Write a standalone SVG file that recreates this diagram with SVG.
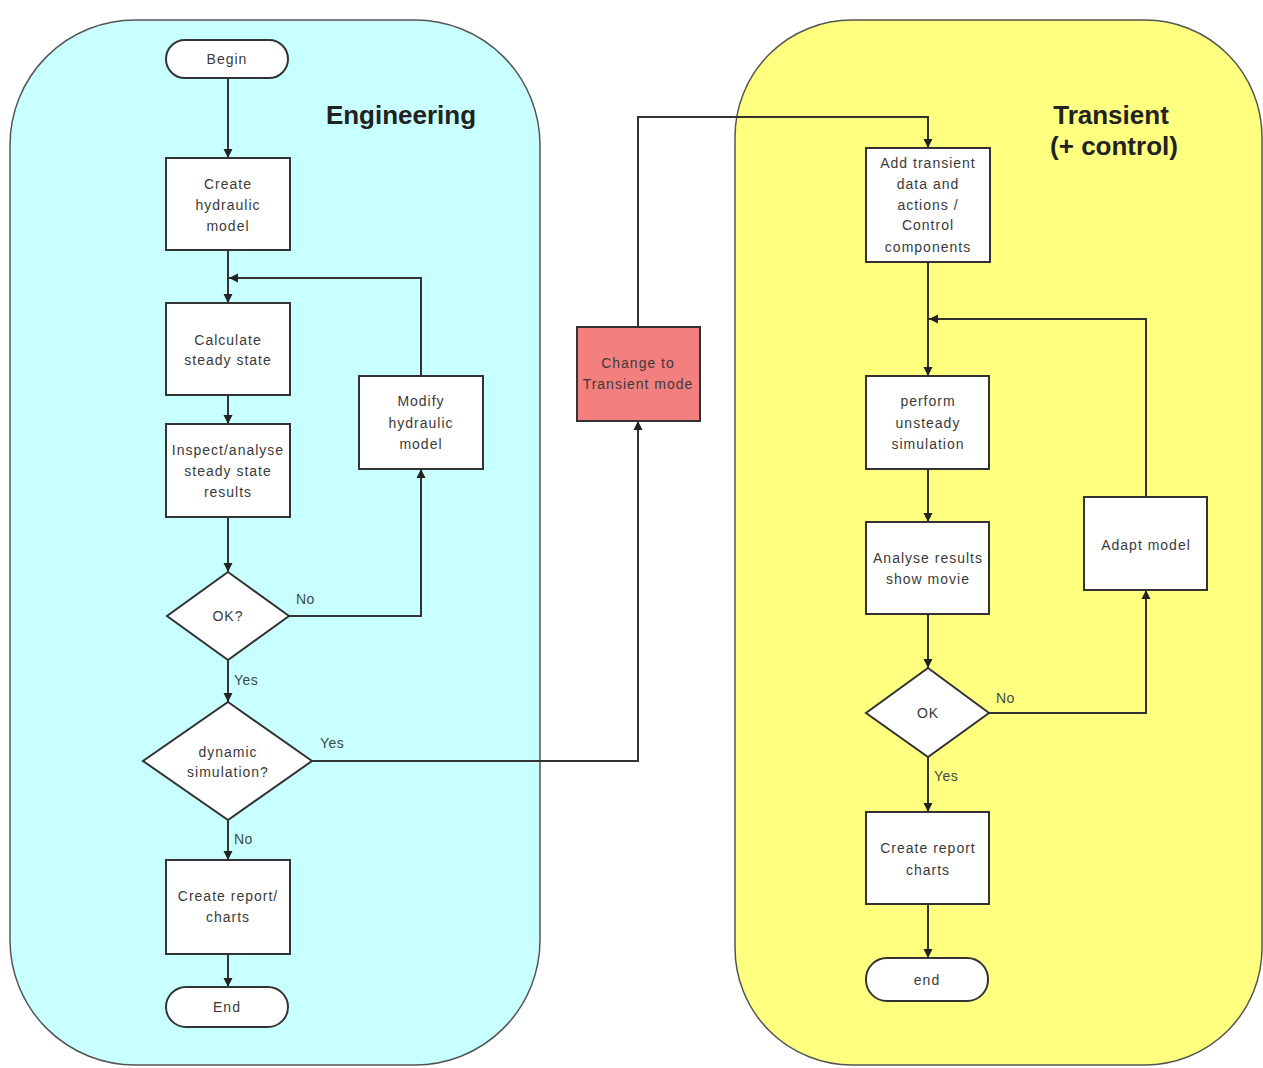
<svg xmlns="http://www.w3.org/2000/svg" width="1263" height="1068" viewBox="0 0 1263 1068">
<style>
.bg{fill:#ffffff}
.lane{stroke:#555;stroke-width:1.5}
.box{fill:#ffffff;stroke:#333;stroke-width:2}
.t{font-family:"Liberation Sans",Arial,sans-serif;font-size:14px;letter-spacing:1px;fill:#3a3a3a;text-anchor:middle}
.title{font-family:"Liberation Sans",Arial,sans-serif;font-size:26px;font-weight:bold;fill:#222;text-anchor:middle}
.lbl{font-family:"Liberation Sans",Arial,sans-serif;font-size:14px;letter-spacing:0.5px;fill:#3d4a4a}
.c{fill:none;stroke:#333;stroke-width:2}
</style>
<defs>
<marker id="ah" markerUnits="userSpaceOnUse" markerWidth="10" markerHeight="10" refX="9" refY="5" orient="auto">
<path d="M0,0.5 L9,5 L0,9.5 Z" fill="#222"/>
</marker>
</defs>
<rect class="bg" x="0" y="0" width="1263" height="1068"/>
<g id="lane-engineering">
<rect class="lane" x="10" y="20" width="530" height="1045" rx="125" ry="125" fill="#c8ffff"/>
<text class="title" x="401" y="124">Engineering</text>
</g>
<g id="lane-transient">
<rect class="lane" x="735" y="20" width="527" height="1045" rx="117" ry="117" fill="#ffff80"/>
<text class="title" x="1111" y="124">Transient</text>
<text class="title" x="1114" y="155">(+ control)</text>
</g>
<g id="connectors">
<path class="c" d="M228 78 V158" marker-end="url(#ah)"/>
<path class="c" d="M228 250 V303" marker-end="url(#ah)"/>
<path class="c" d="M421 376 V278 H229" marker-end="url(#ah)"/>
<path class="c" d="M228 395 V424" marker-end="url(#ah)"/>
<path class="c" d="M228 517 V572" marker-end="url(#ah)"/>
<path class="c" d="M289 616 H421 V469" marker-end="url(#ah)"/>
<path class="c" d="M228 660 V702" marker-end="url(#ah)"/>
<path class="c" d="M228 820 V860" marker-end="url(#ah)"/>
<path class="c" d="M228 954 V987" marker-end="url(#ah)"/>
<path class="c" d="M312 761 H638 V421" marker-end="url(#ah)"/>
<path class="c" d="M638 327 V117 H928 V148" marker-end="url(#ah)"/>
<path class="c" d="M928 262 V376" marker-end="url(#ah)"/>
<path class="c" d="M1146 497 V319 H929" marker-end="url(#ah)"/>
<path class="c" d="M928 469 V522" marker-end="url(#ah)"/>
<path class="c" d="M928 614 V668" marker-end="url(#ah)"/>
<path class="c" d="M989 713 H1146 V590" marker-end="url(#ah)"/>
<path class="c" d="M928 757 V812" marker-end="url(#ah)"/>
<path class="c" d="M928 904 V958" marker-end="url(#ah)"/>
<text class="lbl" x="296" y="604">No</text>
<text class="lbl" x="234" y="685">Yes</text>
<text class="lbl" x="320" y="748">Yes</text>
<text class="lbl" x="234" y="844">No</text>
<text class="lbl" x="996" y="703">No</text>
<text class="lbl" x="934" y="781">Yes</text>
</g>
<g id="begin">
<rect class="box" x="166" y="40" width="122" height="38" rx="19" ry="19"/>
<text class="t" x="227" y="64">Begin</text>
</g>
<g id="create-hydraulic">
<rect class="box" x="166" y="158" width="124" height="92"/>
<text class="t" x="228" y="189">Create</text>
<text class="t" x="228" y="210">hydraulic</text>
<text class="t" x="228" y="231">model</text>
</g>
<g id="calculate">
<rect class="box" x="166" y="303" width="124" height="92"/>
<text class="t" x="228" y="345">Calculate</text>
<text class="t" x="228" y="365">steady state</text>
</g>
<g id="inspect">
<rect class="box" x="166" y="424" width="124" height="93"/>
<text class="t" x="228" y="455">Inspect/analyse</text>
<text class="t" x="228" y="476">steady state</text>
<text class="t" x="228" y="497">results</text>
</g>
<g id="ok1">
<polygon class="box" points="228,572 289,616 228,660 167,616"/>
<text class="t" x="228" y="621">OK?</text>
</g>
<g id="modify">
<rect class="box" x="359" y="376" width="124" height="93"/>
<text class="t" x="421" y="406">Modify</text>
<text class="t" x="421" y="428">hydraulic</text>
<text class="t" x="421" y="449">model</text>
</g>
<g id="dynamic">
<polygon class="box" points="228,702 312,761 228,820 143,761"/>
<text class="t" x="228" y="757">dynamic</text>
<text class="t" x="228" y="777">simulation?</text>
</g>
<g id="report1">
<rect class="box" x="166" y="860" width="124" height="94"/>
<text class="t" x="228" y="901">Create report/</text>
<text class="t" x="228" y="922">charts</text>
</g>
<g id="end1">
<rect class="box" x="166" y="987" width="122" height="40" rx="20" ry="20"/>
<text class="t" x="227" y="1012">End</text>
</g>
<g id="change-mode">
<rect class="box" x="577" y="327" width="123" height="94" fill="#f47f7f" style="fill:#f47f7f"/>
<text class="t" x="638" y="368">Change to</text>
<text class="t" x="638" y="389">Transient mode</text>
</g>
<g id="add-transient">
<rect class="box" x="866" y="148" width="124" height="114"/>
<text class="t" x="928" y="168">Add transient</text>
<text class="t" x="928" y="189">data and</text>
<text class="t" x="928" y="210">actions /</text>
<text class="t" x="928" y="230">Control</text>
<text class="t" x="928" y="252">components</text>
</g>
<g id="perform">
<rect class="box" x="866" y="376" width="123" height="93"/>
<text class="t" x="928" y="406">perform</text>
<text class="t" x="928" y="428">unsteady</text>
<text class="t" x="928" y="449">simulation</text>
</g>
<g id="analyse">
<rect class="box" x="866" y="522" width="123" height="92"/>
<text class="t" x="928" y="563">Analyse results</text>
<text class="t" x="928" y="584">show movie</text>
</g>
<g id="adapt">
<rect class="box" x="1084" y="497" width="123" height="93"/>
<text class="t" x="1146" y="550">Adapt model</text>
</g>
<g id="ok2">
<polygon class="box" points="928,668 989,713 928,757 866,713"/>
<text class="t" x="928" y="718">OK</text>
</g>
<g id="report2">
<rect class="box" x="866" y="812" width="123" height="92"/>
<text class="t" x="928" y="853">Create report</text>
<text class="t" x="928" y="875">charts</text>
</g>
<g id="end2">
<rect class="box" x="866" y="958" width="122" height="43" rx="21" ry="21"/>
<text class="t" x="927" y="985">end</text>
</g>
</svg>
